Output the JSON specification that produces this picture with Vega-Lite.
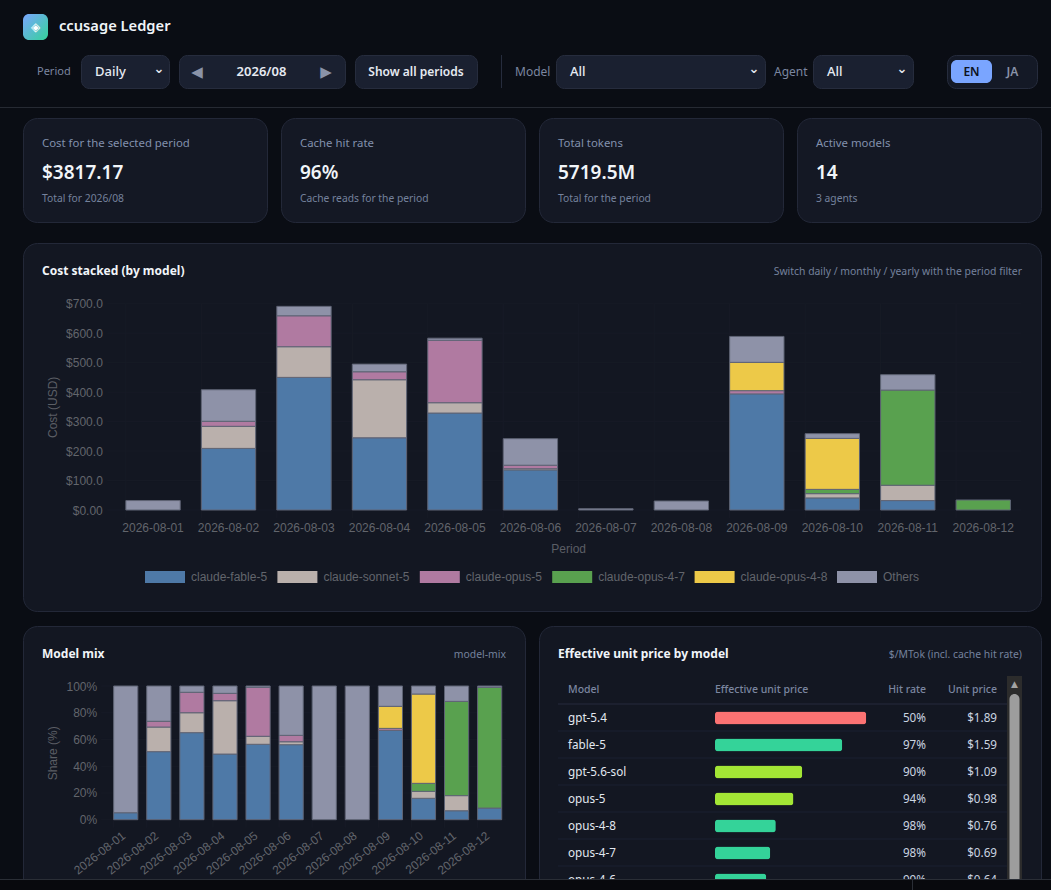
{
  "$schema": "https://vega.github.io/schema/vega-lite/v6.json",
  "padding": 0,
  "background": "#0a0d14",
  "spacing": 0,
  "bounds": "flush",
  "resolve": {"scale": {"color": "independent"}, "legend": {"color": "independent"}},
  "config": {
    "view": {"stroke": null},
    "text": {"font": "Noto Sans"},
    "concat": {"spacing": 0},
    "axis": {"labelFont": "Liberation Sans", "titleFont": "Liberation Sans", "labelFontSize": 12, "titleFontSize": 12, "titleFontWeight": "normal", "labelColor": "#62656c", "titleColor": "#5b5e65", "grid": false, "ticks": false, "domain": false},
    "legend": {"labelFont": "Liberation Sans", "labelFontSize": 12, "labelColor": "#62656c"}
  },
  "datasets": {
    "none": [],
    "days": [
      {"period":"2026-08-01"},{"period":"2026-08-02"},{"period":"2026-08-03"},{"period":"2026-08-04"},{"period":"2026-08-05"},{"period":"2026-08-06"},
      {"period":"2026-08-07"},{"period":"2026-08-08"},{"period":"2026-08-09"},{"period":"2026-08-10"},{"period":"2026-08-11"},{"period":"2026-08-12"}
    ],
    "cost": [
      {"period":"2026-08-01","model":"Others","order":6,"cost":32},
      {"period":"2026-08-02","model":"claude-fable-5","order":1,"cost":209},
      {"period":"2026-08-02","model":"claude-sonnet-5","order":2,"cost":75},
      {"period":"2026-08-02","model":"claude-opus-5","order":3,"cost":17},
      {"period":"2026-08-02","model":"Others","order":6,"cost":107},
      {"period":"2026-08-03","model":"claude-fable-5","order":1,"cost":450},
      {"period":"2026-08-03","model":"claude-sonnet-5","order":2,"cost":104},
      {"period":"2026-08-03","model":"claude-opus-5","order":3,"cost":105},
      {"period":"2026-08-03","model":"Others","order":6,"cost":32},
      {"period":"2026-08-04","model":"claude-fable-5","order":1,"cost":245},
      {"period":"2026-08-04","model":"claude-sonnet-5","order":2,"cost":197},
      {"period":"2026-08-04","model":"claude-opus-5","order":3,"cost":27},
      {"period":"2026-08-04","model":"Others","order":6,"cost":26},
      {"period":"2026-08-05","model":"claude-fable-5","order":1,"cost":329},
      {"period":"2026-08-05","model":"claude-sonnet-5","order":2,"cost":35},
      {"period":"2026-08-05","model":"claude-opus-5","order":3,"cost":212},
      {"period":"2026-08-05","model":"Others","order":6,"cost":7},
      {"period":"2026-08-06","model":"claude-fable-5","order":1,"cost":136},
      {"period":"2026-08-06","model":"claude-sonnet-5","order":2,"cost":4},
      {"period":"2026-08-06","model":"claude-opus-5","order":3,"cost":12},
      {"period":"2026-08-06","model":"Others","order":6,"cost":90},
      {"period":"2026-08-07","model":"Others","order":6,"cost":4.5},
      {"period":"2026-08-08","model":"Others","order":6,"cost":30.5},
      {"period":"2026-08-09","model":"claude-fable-5","order":1,"cost":394},
      {"period":"2026-08-09","model":"claude-opus-5","order":3,"cost":11},
      {"period":"2026-08-09","model":"claude-opus-4-8","order":5,"cost":96},
      {"period":"2026-08-09","model":"Others","order":6,"cost":88},
      {"period":"2026-08-10","model":"claude-fable-5","order":1,"cost":41},
      {"period":"2026-08-10","model":"claude-sonnet-5","order":2,"cost":14.5},
      {"period":"2026-08-10","model":"claude-opus-4-7","order":4,"cost":14.5},
      {"period":"2026-08-10","model":"claude-opus-4-8","order":5,"cost":173},
      {"period":"2026-08-10","model":"Others","order":6,"cost":16},
      {"period":"2026-08-11","model":"claude-fable-5","order":1,"cost":32},
      {"period":"2026-08-11","model":"claude-sonnet-5","order":2,"cost":52},
      {"period":"2026-08-11","model":"claude-opus-4-7","order":4,"cost":323},
      {"period":"2026-08-11","model":"Others","order":6,"cost":52},
      {"period":"2026-08-12","model":"claude-opus-4-7","order":4,"cost":34}
    ],
    "mix": [
      {"period":"2026-08-01","model":"claude-fable-5","order":1,"share":5.2},
      {"period":"2026-08-01","model":"Others","order":6,"share":94.8},
      {"period":"2026-08-02","model":"claude-fable-5","order":1,"share":50.9},
      {"period":"2026-08-02","model":"claude-sonnet-5","order":2,"share":18.4},
      {"period":"2026-08-02","model":"claude-opus-5","order":3,"share":4.3},
      {"period":"2026-08-02","model":"Others","order":6,"share":26.4},
      {"period":"2026-08-03","model":"claude-fable-5","order":1,"share":65.1},
      {"period":"2026-08-03","model":"claude-sonnet-5","order":2,"share":14.9},
      {"period":"2026-08-03","model":"claude-opus-5","order":3,"share":15.3},
      {"period":"2026-08-03","model":"Others","order":6,"share":4.7},
      {"period":"2026-08-04","model":"claude-fable-5","order":1,"share":49.1},
      {"period":"2026-08-04","model":"claude-sonnet-5","order":2,"share":39.9},
      {"period":"2026-08-04","model":"claude-opus-5","order":3,"share":5.5},
      {"period":"2026-08-04","model":"Others","order":6,"share":5.5},
      {"period":"2026-08-05","model":"claude-fable-5","order":1,"share":56.4},
      {"period":"2026-08-05","model":"claude-sonnet-5","order":2,"share":6},
      {"period":"2026-08-05","model":"claude-opus-5","order":3,"share":36.6},
      {"period":"2026-08-05","model":"Others","order":6,"share":1},
      {"period":"2026-08-06","model":"claude-fable-5","order":1,"share":56.1},
      {"period":"2026-08-06","model":"claude-sonnet-5","order":2,"share":2.2},
      {"period":"2026-08-06","model":"claude-opus-5","order":3,"share":4.8},
      {"period":"2026-08-06","model":"Others","order":6,"share":36.9},
      {"period":"2026-08-07","model":"Others","order":6,"share":100},
      {"period":"2026-08-08","model":"Others","order":6,"share":100},
      {"period":"2026-08-09","model":"claude-fable-5","order":1,"share":66.8},
      {"period":"2026-08-09","model":"claude-opus-5","order":3,"share":1.5},
      {"period":"2026-08-09","model":"claude-opus-4-8","order":5,"share":16.5},
      {"period":"2026-08-09","model":"Others","order":6,"share":15.2},
      {"period":"2026-08-10","model":"claude-fable-5","order":1,"share":16},
      {"period":"2026-08-10","model":"claude-sonnet-5","order":2,"share":5.2},
      {"period":"2026-08-10","model":"claude-opus-4-7","order":4,"share":6},
      {"period":"2026-08-10","model":"claude-opus-4-8","order":5,"share":66.8},
      {"period":"2026-08-10","model":"Others","order":6,"share":6},
      {"period":"2026-08-11","model":"claude-fable-5","order":1,"share":6.7},
      {"period":"2026-08-11","model":"claude-sonnet-5","order":2,"share":11.3},
      {"period":"2026-08-11","model":"claude-opus-4-7","order":4,"share":70.5},
      {"period":"2026-08-11","model":"Others","order":6,"share":11.5},
      {"period":"2026-08-12","model":"claude-fable-5","order":1,"share":8.7},
      {"period":"2026-08-12","model":"claude-opus-4-7","order":4,"share":90.3},
      {"period":"2026-08-12","model":"Others","order":6,"share":1}
    ],
    "prices": [
      {"model":"gpt-5.4","hit":0.5,"price":1.89},
      {"model":"fable-5","hit":0.97,"price":1.59},
      {"model":"gpt-5.6-sol","hit":0.9,"price":1.09},
      {"model":"opus-5","hit":0.94,"price":0.98},
      {"model":"opus-4-8","hit":0.98,"price":0.76},
      {"model":"opus-4-7","hit":0.98,"price":0.69},
      {"model":"opus-4-6","hit":0.99,"price":0.64}
    ]
  },
  "vconcat": [
    {"width":1,"height":14,"data":{"name":"none"},"mark":"rect"},
    {"bounds":"flush","hconcat":[
      {"width":23,"height":26,"data":{"name":"none"},"mark":"rect"},
      {"width":25,"height":26,"data":{"values":[{"icon":"◈"}]},"layer":[
        {"mark":{"type":"rect","cornerRadius":6,"fill":{"gradient":"linear","x1":0,"y1":0,"x2":1,"y2":1,"stops":[{"offset":0,"color":"#7aa5ff"},{"offset":1,"color":"#34d399"}]}}},
        {"mark":{"type":"text","color":"#ffffff","fontSize":12},"encoding":{"text":{"field":"icon"}}}
      ]},
      {"width":11,"height":26,"data":{"name":"none"},"mark":"rect"},
      {"width":200,"height":26,"data":{"values":[{"name":"ccusage Ledger"}]},
        "mark":{"type":"text","align":"left","fontSize":14.7,"fontWeight":600,"color":"#f1f5f9"},
        "encoding":{"text":{"field":"name"},"x":{"field":"name","type":"nominal","axis":null,"scale":{"type":"point","range":[0,0]}}}}
    ]},
    {"width":1,"height":41,"data":{"name":"none"},"mark":"rect"},
    {"bounds":"flush","resolve":{"scale":{"color":"independent"}},"hconcat":[
      {"width":37,"height":33,"data":{"name":"none"},"mark":"rect"},
      {"width":44,"height":33,"data":{"values":[{"t":"Period"}]},"mark":{"type":"text","align":"left","fontSize":11,"color":"#7b86a0"},"encoding":{"text":{"field":"t"},"x":{"field":"t","type":"nominal","axis":null,"scale":{"type":"point","range":[0,0]}}}},
      {"width":88,"height":33,"view":{"fill":"#1a2030","stroke":"#262c3d","cornerRadius":8},"layer":[
        {"data":{"values":[{"t":"Daily"}]},"mark":{"type":"text","align":"left","fontSize":13,"fontWeight":500,"color":"#e6eaf2"},"encoding":{"text":{"field":"t"},"x":{"field":"t","type":"nominal","axis":null,"scale":{"type":"point","range":[14,14]}}}},
        {"data":{"values":[{"t":"⌄"}]},"mark":{"type":"text","fontSize":13,"dy":-3,"fontWeight":"bold","color":"#e6eaf2","font":"DejaVu Sans"},"encoding":{"text":{"field":"t"},"x":{"field":"t","type":"nominal","axis":null,"scale":{"type":"point","range":[78,78]}}}}
      ],"resolve":{"scale":{"x":"independent"}}},
      {"width":10,"height":33,"data":{"name":"none"},"mark":"rect"},
      {"width":166,"height":33,"view":{"fill":"#1a2030","stroke":"#262c3d","cornerRadius":8},"data":{"values":[{"t":"◀"},{"t":"2026/08"},{"t":"▶"}]},"layer":[
        {"transform":[{"filter":"datum.t !== '2026/08'"}],"mark":{"type":"text","fontSize":15,"color":"#8a93a8","font":"DejaVu Sans"},"encoding":{"text":{"field":"t"},"x":{"field":"t","type":"nominal","axis":null,"scale":{"type":"point","padding":0,"domain":["◀","2026/08","▶"],"range":[18,147]}}}},
        {"transform":[{"filter":"datum.t === '2026/08'"}],"mark":{"type":"text","fontSize":13,"fontWeight":600,"color":"#e6eaf2"},"encoding":{"text":{"field":"t"},"x":{"field":"t","type":"nominal","axis":null,"scale":{"type":"point","padding":0,"domain":["◀","2026/08","▶"],"range":[18,147]}}}}
      ]},
      {"width":10,"height":33,"data":{"name":"none"},"mark":"rect"},
      {"width":122,"height":33,"view":{"fill":"#1a2030","stroke":"#262c3d","cornerRadius":8},"data":{"values":[{"t":"Show all periods"}]},"mark":{"type":"text","fontSize":12,"fontWeight":600,"color":"#e6eaf2"},"encoding":{"text":{"field":"t"}}},
      {"width":24,"height":33,"data":{"name":"none"},"mark":"rect"},
      {"width":1,"height":33,"view":{"fill":"#262c3d"},"data":{"name":"none"},"mark":"rect"},
      {"width":13,"height":33,"data":{"name":"none"},"mark":"rect"},
      {"width":41,"height":33,"data":{"values":[{"t":"Model"}]},"mark":{"type":"text","align":"left","fontSize":12,"color":"#7b86a0"},"encoding":{"text":{"field":"t"},"x":{"field":"t","type":"nominal","axis":null,"scale":{"type":"point","range":[0,0]}}}},
      {"width":209,"height":33,"view":{"fill":"#1a2030","stroke":"#262c3d","cornerRadius":8},"layer":[
        {"data":{"values":[{"t":"All"}]},"mark":{"type":"text","align":"left","fontSize":13,"fontWeight":500,"color":"#e6eaf2"},"encoding":{"text":{"field":"t"},"x":{"field":"t","type":"nominal","axis":null,"scale":{"type":"point","range":[14,14]}}}},
        {"data":{"values":[{"t":"⌄"}]},"mark":{"type":"text","fontSize":13,"dy":-3,"fontWeight":"bold","color":"#e6eaf2","font":"DejaVu Sans"},"encoding":{"text":{"field":"t"},"x":{"field":"t","type":"nominal","axis":null,"scale":{"type":"point","range":[198,198]}}}}
      ],"resolve":{"scale":{"x":"independent"}}},
      {"width":9,"height":33,"data":{"name":"none"},"mark":"rect"},
      {"width":39,"height":33,"data":{"values":[{"t":"Agent"}]},"mark":{"type":"text","align":"left","fontSize":12,"color":"#7b86a0"},"encoding":{"text":{"field":"t"},"x":{"field":"t","type":"nominal","axis":null,"scale":{"type":"point","range":[0,0]}}}},
      {"width":100,"height":33,"view":{"fill":"#1a2030","stroke":"#262c3d","cornerRadius":8},"layer":[
        {"data":{"values":[{"t":"All"}]},"mark":{"type":"text","align":"left","fontSize":13,"fontWeight":500,"color":"#e6eaf2"},"encoding":{"text":{"field":"t"},"x":{"field":"t","type":"nominal","axis":null,"scale":{"type":"point","range":[14,14]}}}},
        {"data":{"values":[{"t":"⌄"}]},"mark":{"type":"text","fontSize":13,"dy":-3,"fontWeight":"bold","color":"#e6eaf2","font":"DejaVu Sans"},"encoding":{"text":{"field":"t"},"x":{"field":"t","type":"nominal","axis":null,"scale":{"type":"point","range":[89,89]}}}}
      ],"resolve":{"scale":{"x":"independent"}}},
      {"width":34,"height":33,"data":{"name":"none"},"mark":"rect"},
      {"width":90,"height":33,"view":{"fill":"#141926","stroke":"#262c3d","cornerRadius":9},"data":{"values":[{"lang":"EN"},{"lang":"JA"}]},"layer":[
        {"transform":[{"filter":"datum.lang === 'EN'"}],"mark":{"type":"bar","height":23,"cornerRadius":6,"color":"#7aa5ff"},"encoding":{"x":{"field":"lang","type":"nominal","axis":null,"scale":{"domain":["EN","JA"],"range":[4,86],"padding":0}},"y":{"datum":"row","type":"nominal","axis":null,"scale":{"type":"point","range":[16.5,16.5]}}}},
        {"transform":[{"filter":"datum.lang === 'EN'"}],"mark":{"type":"text","fontSize":12,"fontWeight":600,"color":"#0d1220"},"encoding":{"text":{"field":"lang"},"x":{"field":"lang","type":"nominal","axis":null,"scale":{"domain":["EN","JA"],"range":[4,86],"padding":0}}}},
        {"transform":[{"filter":"datum.lang === 'JA'"}],"mark":{"type":"text","fontSize":12,"fontWeight":600,"color":"#8a93a8"},"encoding":{"text":{"field":"lang"},"x":{"field":"lang","type":"nominal","axis":null,"scale":{"domain":["EN","JA"],"range":[4,86],"padding":0}}}}
      ]}
    ]},
    {"width":1,"height":52,"data":{"name":"none"},"mark":"rect"},
    {"width":1051,"height":1,"view":{"fill":"#262a33"},"data":{"name":"none"},"mark":"rect"},
    {"width":1,"height":10,"data":{"name":"none"},"mark":"rect"},
    {"spacing":14,"bounds":"flush","hconcat":[
      {"width":9,"height":104,"data":{"name":"none"},"mark":"rect"},
      {"width":244,"height":104,"view":{"fill":"#141824","stroke":"#232838","cornerRadius":14},
       "data":{"values":[{"card":"cost","role":"label","text":"Cost for the selected period"},{"card":"cost","role":"value","text":"$3817.17"},{"card":"cost","role":"note","text":"Total for 2026/08"}]},
       "encoding":{"text":{"field":"text"},"x":{"field":"card","type":"nominal","axis":null,"scale":{"type":"point","range":[19,19]}},"y":{"field":"role","type":"nominal","axis":null,"scale":{"type":"point","padding":0,"domain":["label","value","note"],"range":[26,81]}}},
       "layer":[{"transform":[{"filter":"datum.role === 'label'"}],"mark":{"type":"text","align":"left","fontSize":11.4,"color":"#8290ad"}},{"transform":[{"filter":"datum.role === 'value'"}],"mark":{"type":"text","align":"left","fontSize":19,"fontWeight":600,"color":"#f1f5f9","dy":1}},{"transform":[{"filter":"datum.role === 'note'"}],"mark":{"type":"text","align":"left","fontSize":10.3,"color":"#75829d"}}]},
      {"width":244,"height":104,"view":{"fill":"#141824","stroke":"#232838","cornerRadius":14},
       "data":{"values":[{"card":"hit","role":"label","text":"Cache hit rate"},{"card":"hit","role":"value","text":"96%"},{"card":"hit","role":"note","text":"Cache reads for the period"}]},
       "encoding":{"text":{"field":"text"},"x":{"field":"card","type":"nominal","axis":null,"scale":{"type":"point","range":[19,19]}},"y":{"field":"role","type":"nominal","axis":null,"scale":{"type":"point","padding":0,"domain":["label","value","note"],"range":[26,81]}}},
       "layer":[{"transform":[{"filter":"datum.role === 'label'"}],"mark":{"type":"text","align":"left","fontSize":11.4,"color":"#8290ad"}},{"transform":[{"filter":"datum.role === 'value'"}],"mark":{"type":"text","align":"left","fontSize":19,"fontWeight":600,"color":"#f1f5f9","dy":1}},{"transform":[{"filter":"datum.role === 'note'"}],"mark":{"type":"text","align":"left","fontSize":10.3,"color":"#75829d"}}]},
      {"width":244,"height":104,"view":{"fill":"#141824","stroke":"#232838","cornerRadius":14},
       "data":{"values":[{"card":"tokens","role":"label","text":"Total tokens"},{"card":"tokens","role":"value","text":"5719.5M"},{"card":"tokens","role":"note","text":"Total for the period"}]},
       "encoding":{"text":{"field":"text"},"x":{"field":"card","type":"nominal","axis":null,"scale":{"type":"point","range":[19,19]}},"y":{"field":"role","type":"nominal","axis":null,"scale":{"type":"point","padding":0,"domain":["label","value","note"],"range":[26,81]}}},
       "layer":[{"transform":[{"filter":"datum.role === 'label'"}],"mark":{"type":"text","align":"left","fontSize":11.4,"color":"#8290ad"}},{"transform":[{"filter":"datum.role === 'value'"}],"mark":{"type":"text","align":"left","fontSize":19,"fontWeight":600,"color":"#f1f5f9","dy":1}},{"transform":[{"filter":"datum.role === 'note'"}],"mark":{"type":"text","align":"left","fontSize":10.3,"color":"#75829d"}}]},
      {"width":244,"height":104,"view":{"fill":"#141824","stroke":"#232838","cornerRadius":14},
       "data":{"values":[{"card":"models","role":"label","text":"Active models"},{"card":"models","role":"value","text":"14"},{"card":"models","role":"note","text":"3 agents"}]},
       "encoding":{"text":{"field":"text"},"x":{"field":"card","type":"nominal","axis":null,"scale":{"type":"point","range":[19,19]}},"y":{"field":"role","type":"nominal","axis":null,"scale":{"type":"point","padding":0,"domain":["label","value","note"],"range":[26,81]}}},
       "layer":[{"transform":[{"filter":"datum.role === 'label'"}],"mark":{"type":"text","align":"left","fontSize":11.4,"color":"#8290ad"}},{"transform":[{"filter":"datum.role === 'value'"}],"mark":{"type":"text","align":"left","fontSize":19,"fontWeight":600,"color":"#f1f5f9","dy":1}},{"transform":[{"filter":"datum.role === 'note'"}],"mark":{"type":"text","align":"left","fontSize":10.3,"color":"#75829d"}}]}
    ]},
    {"width":1,"height":125,"data":{"name":"none"},"mark":"rect"},
    {"bounds":"flush","resolve":{"scale":{"color":"independent"},"legend":{"color":"independent"}},"hconcat":[
      {"width":23,"height":368,"data":{"name":"none"},"mark":"rect"},
      {"width":1018,"height":368,"view":{"fill":"#131722","stroke":"#232838","cornerRadius":14},
       "resolve":{"scale":{"x":"independent","y":"independent"}},
       "layer":[
        {"data":{"values":[{"tick":0},{"tick":100},{"tick":200},{"tick":300},{"tick":400},{"tick":500},{"tick":600},{"tick":700}]},"mark":{"type":"rule","color":"#171b26"},
         "encoding":{"y":{"field":"tick","type":"quantitative","axis":null,"scale":{"domain":[0,700],"range":[267,60.7],"nice":false}},
           "x":{"datum":0,"type":"quantitative","axis":null,"scale":{"domain":[0,1],"range":[84.3,998]}},"x2":{"datum":1}}},
        {"data":{"name":"days"},"mark":{"type":"rule","color":"#171b26"},
         "encoding":{"x":{"field":"period","type":"nominal","bandPosition":0,"axis":null,"scale":{"range":[92.3,998],"paddingInner":0.28,"paddingOuter":0.14}},
           "y":{"datum":0,"type":"quantitative","axis":null,"scale":{"domain":[0,1],"range":[275,60.7]}},"y2":{"datum":1}}},
        {"data":{"name":"cost"},
         "mark":{"type":"bar","stroke":"#5f6475","strokeWidth":1},
         "encoding":{
           "x":{"field":"period","type":"nominal","title":"Period","scale":{"range":[92.3,998],"paddingInner":0.28,"paddingOuter":0.14},
             "axis":{"orient":"bottom","offset":-101,"labelAngle":0,"labelPadding":12.5,"titlePadding":9.5}},
           "y":{"field":"cost","type":"quantitative","stack":"zero","title":"Cost (USD)","scale":{"domain":[0,700],"range":[267,60.7],"nice":false},
             "axis":{"orient":"left","offset":-92.3,"values":[0,100,200,300,400,500,600,700],"labelExpr":"datum.value === 0 ? '$0.00' : '$' + format(datum.value, '.1f')","labelPadding":13,"titlePadding":6}},
           "order":{"field":"order","type":"quantitative"},
           "color":{"field":"model","type":"nominal","title":null,
             "scale":{"domain":["claude-fable-5","claude-sonnet-5","claude-opus-5","claude-opus-4-7","claude-opus-4-8","Others"],"range":["#4e79a7","#bab0ac","#b07aa1","#59a14f","#edc948","#8e92a8"]},
             "legend":{"orient":"none","legendX":122,"legendY":314,"direction":"horizontal","columns":6,"columnPadding":9.4,"labelOffset":6,"symbolType":"M-1,-0.3H1V0.3H-1Z","symbolSize":1600,"symbolStrokeWidth":0,"symbolOpacity":1}}
         }},
        {"data":{"values":[{"t":"Cost stacked (by model)"}]},"mark":{"type":"text","align":"left","fontSize":12,"fontWeight":700,"color":"#f1f5f9"},
         "encoding":{"text":{"field":"t"},"x":{"field":"t","type":"nominal","axis":null,"scale":{"type":"point","range":[19,19]}},"y":{"field":"t","type":"nominal","axis":null,"scale":{"type":"point","range":[28,28]}}}},
        {"data":{"values":[{"t":"Switch daily / monthly / yearly with the period filter"}]},"mark":{"type":"text","align":"right","fontSize":10.4,"color":"#75829d"},
         "encoding":{"text":{"field":"t"},"x":{"field":"t","type":"nominal","axis":null,"scale":{"type":"point","range":[999,999]}},"y":{"field":"t","type":"nominal","axis":null,"scale":{"type":"point","range":[29,29]}}}}
       ]}
    ]},
    {"width":1,"height":383,"data":{"name":"none"},"mark":"rect"},
    {"spacing":14,"bounds":"flush","resolve":{"scale":{"color":"independent"}},"hconcat":[
      {"width":9,"height":270,"data":{"name":"none"},"mark":"rect"},
      {"width":502,"height":270,"view":{"fill":"#131722","stroke":"#232838","cornerRadius":14},
       "resolve":{"scale":{"x":"independent","y":"independent"}},
       "layer":[
        {"data":{"values":[{"tick":0},{"tick":20},{"tick":40},{"tick":60},{"tick":80},{"tick":100}]},"mark":{"type":"rule","color":"#171b26"},
         "encoding":{"y":{"field":"tick","type":"quantitative","axis":null,"scale":{"domain":[0,100],"range":[193.7,60],"nice":false}},
           "x":{"datum":0,"type":"quantitative","axis":null,"scale":{"domain":[0,1],"range":[78.2,483.2]}},"x2":{"datum":1}}},
        {"data":{"name":"days"},"mark":{"type":"rule","color":"#171b26"},
         "encoding":{"x":{"field":"period","type":"nominal","bandPosition":0,"axis":null,"scale":{"range":[86.2,483.2],"paddingInner":0.27,"paddingOuter":0.135}},
           "y":{"datum":0,"type":"quantitative","axis":null,"scale":{"domain":[0,1],"range":[201.7,60]}},"y2":{"datum":1}}},
        {"data":{"name":"mix"},
         "mark":{"type":"bar","stroke":"#5f6475","strokeWidth":1},
         "encoding":{
           "x":{"field":"period","type":"nominal","title":null,"scale":{"range":[86.2,483.2],"paddingInner":0.27,"paddingOuter":0.135},
             "axis":{"orient":"bottom","offset":-76.3,"labelAngle":-38,"labelAlign":"right","labelBaseline":"top","labelPadding":10,"labelOffset":-5}},
           "y":{"field":"share","type":"quantitative","stack":"zero","title":"Share (%)","scale":{"domain":[0,100],"range":[193.7,60],"nice":false},
             "axis":{"orient":"left","offset":-86.2,"values":[0,20,40,60,80,100],"labelExpr":"datum.value + '%'","labelPadding":12.5,"titlePadding":7}},
           "order":{"field":"order","type":"quantitative"},
           "color":{"field":"model","type":"nominal","legend":null,
             "scale":{"domain":["claude-fable-5","claude-sonnet-5","claude-opus-5","claude-opus-4-7","claude-opus-4-8","Others"],"range":["#4e79a7","#bab0ac","#b07aa1","#59a14f","#edc948","#8e92a8"]}}
         }},
        {"data":{"values":[{"t":"Model mix"}]},"mark":{"type":"text","align":"left","fontSize":12,"fontWeight":700,"color":"#f1f5f9"},
         "encoding":{"text":{"field":"t"},"x":{"field":"t","type":"nominal","axis":null,"scale":{"type":"point","range":[19,19]}},"y":{"field":"t","type":"nominal","axis":null,"scale":{"type":"point","range":[28,28]}}}},
        {"data":{"values":[{"t":"model-mix"}]},"mark":{"type":"text","align":"right","fontSize":10.4,"color":"#75829d"},
         "encoding":{"text":{"field":"t"},"x":{"field":"t","type":"nominal","axis":null,"scale":{"type":"point","range":[483,483]}},"y":{"field":"t","type":"nominal","axis":null,"scale":{"type":"point","range":[29,29]}}}}
       ]},
      {"width":502,"height":270,"view":{"fill":"#131722","stroke":"#232838","cornerRadius":14},
       "resolve":{"scale":{"x":"independent","y":"independent"}},
       "layer":[
        {"data":{"values":[{"t":"Effective unit price by model"}]},"mark":{"type":"text","align":"left","fontSize":12,"fontWeight":700,"color":"#f1f5f9"},
         "encoding":{"text":{"field":"t"},"x":{"field":"t","type":"nominal","axis":null,"scale":{"type":"point","range":[19,19]}},"y":{"field":"t","type":"nominal","axis":null,"scale":{"type":"point","range":[28,28]}}}},
        {"data":{"values":[{"t":"$/MTok (incl. cache hit rate)"}]},"mark":{"type":"text","align":"right","fontSize":10.4,"color":"#75829d"},
         "encoding":{"text":{"field":"t"},"x":{"field":"t","type":"nominal","axis":null,"scale":{"type":"point","range":[483,483]}},"y":{"field":"t","type":"nominal","axis":null,"scale":{"type":"point","range":[29,29]}}}},
        {"data":{"name":"prices"},"mark":{"type":"rule","color":"#1b2030","yOffset":13},
         "encoding":{"y":{"field":"model","type":"nominal","axis":null,"scale":{"type":"point","padding":0,"domain":["Header","gpt-5.4","fable-5","gpt-5.6-sol","opus-5","opus-4-8","opus-4-7","opus-4-6"],"range":[65,254]}},
           "x":{"datum":0,"type":"quantitative","axis":null,"scale":{"domain":[0,1],"range":[19,468]}},"x2":{"datum":1}}},
        {"data":{"values":[{"t":"Header"}]},"mark":{"type":"rule","color":"#262b3c","yOffset":13},
         "encoding":{"y":{"field":"t","type":"nominal","axis":null,"scale":{"type":"point","padding":0,"domain":["Header","gpt-5.4","fable-5","gpt-5.6-sol","opus-5","opus-4-8","opus-4-7","opus-4-6"],"range":[65,254]}},
           "x":{"datum":0,"type":"quantitative","axis":null,"scale":{"domain":[0,1],"range":[19,468]}},"x2":{"datum":1}}},
        {"data":{"name":"prices"},"mark":{"type":"bar","height":13,"cornerRadius":3},
         "encoding":{"y":{"field":"model","type":"nominal","axis":null,"scale":{"type":"point","padding":0,"domain":["Header","gpt-5.4","fable-5","gpt-5.6-sol","opus-5","opus-4-8","opus-4-7","opus-4-6"],"range":[65,254]}},
           "x":{"field":"price","type":"quantitative","axis":null,"scale":{"domain":[0,2],"range":[176,336],"nice":false}},
           "color":{"field":"hit","type":"quantitative","legend":null,"scale":{"type":"threshold","domain":[0.7,0.95],"range":["#fb7272","#a3e635","#34d399"]}}}},
        {"data":{"name":"prices"},"mark":{"type":"text","align":"left","fontSize":11.7,"color":"#e2e8f0"},
         "encoding":{"text":{"field":"model"},"y":{"field":"model","type":"nominal","axis":null,"scale":{"type":"point","padding":0,"domain":["Header","gpt-5.4","fable-5","gpt-5.6-sol","opus-5","opus-4-8","opus-4-7","opus-4-6"],"range":[65,254]}},
           "x":{"datum":"Model","type":"nominal","axis":null,"scale":{"type":"point","domain":["Model"],"range":[29,29]}}}},
        {"data":{"name":"prices"},"mark":{"type":"text","align":"right","fontSize":11.7,"color":"#cbd5e1"},
         "encoding":{"text":{"field":"hit","type":"quantitative","format":".0%"},"y":{"field":"model","type":"nominal","axis":null,"scale":{"type":"point","padding":0,"domain":["Header","gpt-5.4","fable-5","gpt-5.6-sol","opus-5","opus-4-8","opus-4-7","opus-4-6"],"range":[65,254]}},
           "x":{"datum":"Hit rate","type":"nominal","axis":null,"scale":{"type":"point","domain":["Hit rate"],"range":[387,387]}}}},
        {"data":{"name":"prices"},"mark":{"type":"text","align":"right","fontSize":11.7,"color":"#cbd5e1"},
         "encoding":{"text":{"field":"price","type":"quantitative","format":"$.2f"},"y":{"field":"model","type":"nominal","axis":null,"scale":{"type":"point","padding":0,"domain":["Header","gpt-5.4","fable-5","gpt-5.6-sol","opus-5","opus-4-8","opus-4-7","opus-4-6"],"range":[65,254]}},
           "x":{"datum":"Unit price","type":"nominal","axis":null,"scale":{"type":"point","domain":["Unit price"],"range":[458,458]}}}},
        {"data":{"values":[{"t":"Model"}]},"mark":{"type":"text","align":"left","fontSize":10.5,"fontWeight":500,"color":"#7b86a0","dy":-1},
         "encoding":{"text":{"field":"t"},"y":{"datum":"Header","type":"nominal","axis":null,"scale":{"type":"point","padding":0,"domain":["Header","gpt-5.4","fable-5","gpt-5.6-sol","opus-5","opus-4-8","opus-4-7","opus-4-6"],"range":[65,254]}},
           "x":{"field":"t","type":"nominal","axis":null,"scale":{"type":"point","range":[29,29]}}}},
        {"data":{"values":[{"t":"Effective unit price"}]},"mark":{"type":"text","align":"left","fontSize":10.5,"fontWeight":500,"color":"#7b86a0","dy":-1},
         "encoding":{"text":{"field":"t"},"y":{"datum":"Header","type":"nominal","axis":null,"scale":{"type":"point","padding":0,"domain":["Header","gpt-5.4","fable-5","gpt-5.6-sol","opus-5","opus-4-8","opus-4-7","opus-4-6"],"range":[65,254]}},
           "x":{"field":"t","type":"nominal","axis":null,"scale":{"type":"point","range":[176,176]}}}},
        {"data":{"values":[{"t":"Hit rate"}]},"mark":{"type":"text","align":"right","fontSize":10.5,"fontWeight":500,"color":"#7b86a0","dy":-1},
         "encoding":{"text":{"field":"t"},"y":{"datum":"Header","type":"nominal","axis":null,"scale":{"type":"point","padding":0,"domain":["Header","gpt-5.4","fable-5","gpt-5.6-sol","opus-5","opus-4-8","opus-4-7","opus-4-6"],"range":[65,254]}},
           "x":{"field":"t","type":"nominal","axis":null,"scale":{"type":"point","range":[387,387]}}}},
        {"data":{"values":[{"t":"Unit price"}]},"mark":{"type":"text","align":"right","fontSize":10.5,"fontWeight":500,"color":"#7b86a0","dy":-1},
         "encoding":{"text":{"field":"t"},"y":{"datum":"Header","type":"nominal","axis":null,"scale":{"type":"point","padding":0,"domain":["Header","gpt-5.4","fable-5","gpt-5.6-sol","opus-5","opus-4-8","opus-4-7","opus-4-6"],"range":[65,254]}},
           "x":{"field":"t","type":"nominal","axis":null,"scale":{"type":"point","range":[458,458]}}}},
        {"data":{"values":[{"part":"track"}]},"mark":{"type":"rect","color":"#2c2c2c"},
         "encoding":{"x":{"datum":0,"type":"quantitative","axis":null,"scale":{"domain":[0,1],"range":[468,483]}},"x2":{"datum":1},
           "y":{"datum":0,"type":"quantitative","axis":null,"scale":{"domain":[0,1],"range":[50,270]}},"y2":{"datum":1}}},
        {"data":{"values":[{"part":"thumb"}]},"mark":{"type":"rect","color":"#9d9d9d","cornerRadius":5},
         "encoding":{"x":{"datum":0,"type":"quantitative","axis":null,"scale":{"domain":[0,1],"range":[470.5,480.5]}},"x2":{"datum":1},
           "y":{"datum":0,"type":"quantitative","axis":null,"scale":{"domain":[0,1],"range":[68,270]}},"y2":{"datum":1}}},
        {"data":{"values":[{"t":"▲"}]},"mark":{"type":"text","fontSize":9,"color":"#a3a3a3","font":"DejaVu Sans"},
         "encoding":{"text":{"field":"t"},"x":{"field":"t","type":"nominal","axis":null,"scale":{"type":"point","range":[475.5,475.5]}},"y":{"field":"t","type":"nominal","axis":null,"scale":{"type":"point","range":[58,58]}}}}
       ]}
    ]},
    {"width":1,"height":253,"data":{"name":"none"},"mark":"rect"},
    {"width":1051,"height":1,"view":{"fill":"#2a2e36"},"data":{"name":"none"},"mark":"rect"},
    {"bounds":"flush","hconcat":[
      {"width":912,"height":10,"view":{"fill":"#08090d"},"data":{"name":"none"},"mark":"rect"},
      {"width":1,"height":10,"view":{"fill":"#2a2e36"},"data":{"name":"none"},"mark":"rect"},
      {"width":138,"height":10,"view":{"fill":"#08090d"},"data":{"name":"none"},"mark":"rect"}
    ]}
  ]
}
